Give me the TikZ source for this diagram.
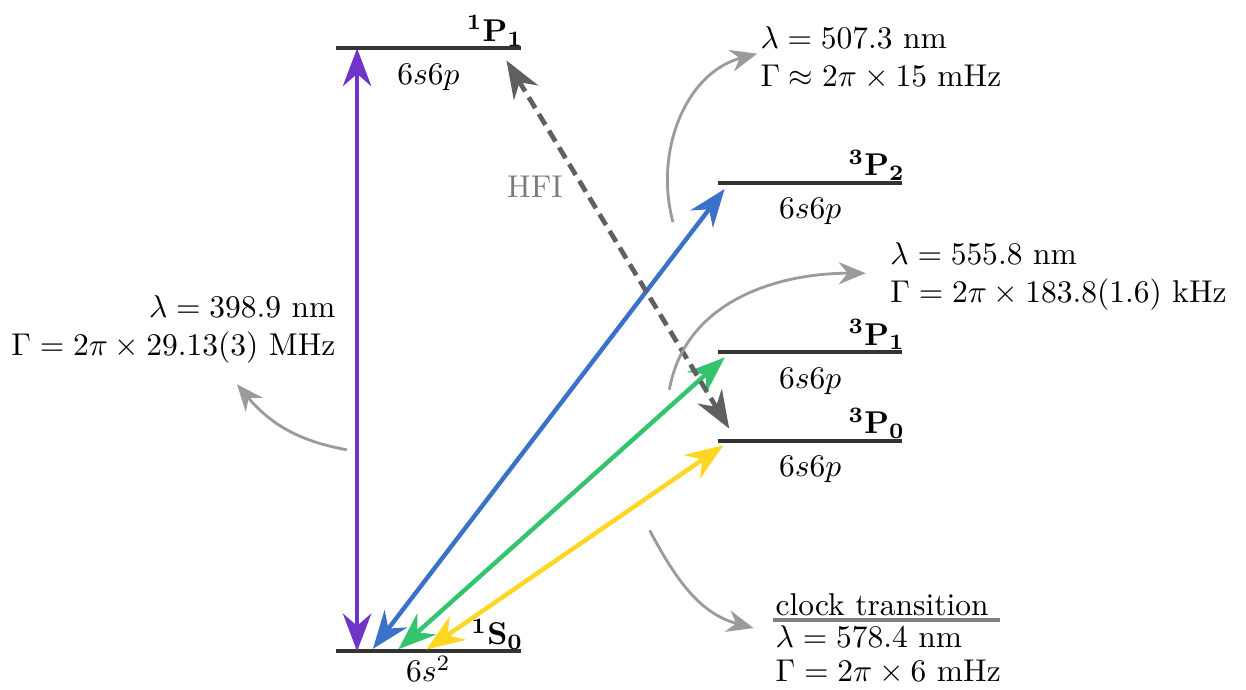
\documentclass[tikz,border=0pt]{standalone}
\usepackage{amsmath,amssymb}
\usepackage{xcolor}
\usepackage{tikz}
\usetikzlibrary{arrows.meta, positioning, calc}

\definecolor{levelgray}{RGB}{51,51,51}
\definecolor{violetline}{RGB}{112,52,200}
\definecolor{blueline}{RGB}{58,114,201}
\definecolor{greenline}{RGB}{52,196,110}
\definecolor{yellowline}{RGB}{255,214,34}
\definecolor{hfigray}{RGB}{96,96,96}
\definecolor{notegray}{RGB}{155,155,155}

\begin{document}
\begin{tikzpicture}[
    level/.style={draw=levelgray, line width=1.3pt},
    config/.style={below=1pt},
    term/.style={anchor=base east, inner sep=0pt, xshift=1.5pt, yshift=2.2pt},
    trans/.style={{Stealth[length=12pt,width=9pt]}-{Stealth[length=12pt,width=9pt]}, line width=1.4pt, shorten <=1pt, shorten >=2.5pt},
    hfi/.style={trans, draw=hfigray, line width=1.5pt, dash pattern=on 4pt off 2.2pt, shorten <=4.5pt, shorten >=4.5pt},
    note/.style={-{Stealth[length=8.5pt,width=7pt]}, draw=notegray, line width=0.9pt},
    info/.style={inner sep=0pt, align=left, anchor=west}
]
\useasboundingbox (0,0) rectangle (13.905,7.689);

% energy levels
\draw[level] (3.75,0.42) coordinate (S0) -- node[config, yshift=3.5pt] (S0conf) {$6s^2$} ++(2.06,0) node[term] (S0term) {$\mathbf{{}^{1}S_{0}}$};
\draw[level] (3.75,7.15) coordinate (P1) -- node[config] (P1conf) {$6s6p$} ++(2.06,0) node[term] (P1term) {$\mathbf{{}^{1}P_{1}}$};
\draw[level] (8.01,5.65) coordinate (T2) -- node[config] (T2conf) {$6s6p$} ++(2.06,0) node[term] (T2term) {$\mathbf{{}^{3}P_{2}}$};
\draw[level] (8.01,3.76) coordinate (T1) -- node[config] (T1conf) {$6s6p$} ++(2.06,0) node[term] (T1term) {$\mathbf{{}^{3}P_{1}}$};
\draw[level] (8.01,2.77) coordinate (T0) -- node[config] (T0conf) {$6s6p$} ++(2.06,0) node[term] (T0term) {$\mathbf{{}^{3}P_{0}}$};

% transitions
\draw[trans, violetline, shorten >=0pt, shorten <=0pt] ([xshift=0.235cm]S0) -- ([xshift=0.235cm]P1);
\draw[trans, blueline] ([xshift=0.39cm]S0) -- ([xshift=0.13cm]T2);
\draw[trans, greenline] ([xshift=0.67cm]S0) -- ([xshift=0.145cm]T1);
\draw[trans, yellowline] ([xshift=0.98cm]S0) -- ([xshift=0.135cm]T0);
\draw[hfi] ([xshift=1.82cm]P1) -- ([xshift=0.21cm]T0);
\node[text=black!52] (hfilabel) at (5.97,5.61) {HFI};

% line data
\node[info, anchor=east, align=right] (l398) at (3.75,4.01) {$\lambda = 398.9$ nm\\$\Gamma = 2\pi\times 29.13(3)$ MHz};
\node[info] (l507) at (8.48,7.04) {$\lambda = 507.3$ nm\\$\Gamma \approx 2\pi\times 15$ mHz};
\node[info] (l555) at (9.93,4.60) {$\lambda = 555.8$ nm\\$\Gamma = 2\pi\times 183.8(1.6)$ kHz};
\node[info] (clock) at (8.65,0.94) {clock transition};
\node[info] (l578) at (8.65,0.38) {$\lambda = 578.4$ nm\\[-1pt]$\Gamma = 2\pi\times 6$ mHz};
\draw[draw=gray, line width=1pt] (8.63,0.77) -- (11.16,0.77);

\coordinate (c398) at (3.87,2.67);
\coordinate (e398) at (2.645,3.40);
\coordinate (c507) at (7.51,5.21);
\coordinate (e507) at (8.45,7.09);
\coordinate (c555) at (7.47,3.34);
\coordinate (e555) at (9.66,4.64);
\coordinate (c578) at (7.25,1.77);
\coordinate (e578) at (8.41,0.68);
\draw[note] (c398) to[out=170, in=-50] (e398);
\draw[note] (c507) to[out=105, in=195] (e507);
\draw[note] (c555) to[out=80, in=180] (e555);
\draw[note] (c578) to[out=-62, in=165] (e578);

\end{tikzpicture}
\end{document}
